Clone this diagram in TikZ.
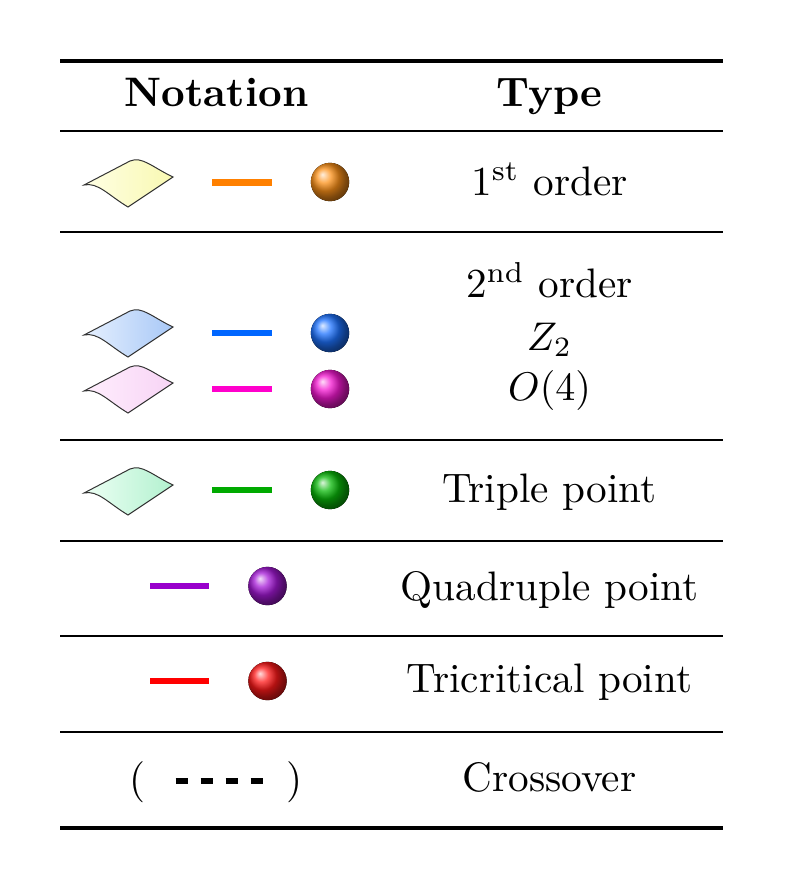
\documentclass[tikz,border=0pt]{standalone}
\usepackage{tikz}
\definecolor{cOrange}{RGB}{255,128,0}
\definecolor{cBlue}{RGB}{0,102,255}
\definecolor{cMag}{RGB}{255,0,204}
\definecolor{cGreen}{RGB}{0,170,0}
\definecolor{cPurple}{RGB}{153,0,204}
\definecolor{cRed}{RGB}{255,0,0}
\definecolor{bOrange}{RGB}{252,145,25}
\definecolor{bBlue}{RGB}{30,115,255}
\definecolor{bMag}{RGB}{245,25,210}
\definecolor{bGreen}{RGB}{10,185,10}
\definecolor{bPurple}{RGB}{165,25,215}
\definecolor{bRed}{RGB}{255,25,25}
\definecolor{yL}{RGB}{255,255,228}
\definecolor{yR}{RGB}{248,248,178}
\definecolor{blL}{RGB}{230,240,255}
\definecolor{blR}{RGB}{168,200,246}
\definecolor{pkL}{RGB}{255,238,253}
\definecolor{pkR}{RGB}{247,212,245}
\definecolor{gnL}{RGB}{237,255,244}
\definecolor{gnR}{RGB}{178,241,207}
\tikzset{
  txt/.style={font=\fontsize{10.3}{12}\selectfont, inner sep=0pt, anchor=base},
  heavyrule/.style={line width=0.8pt},
  lightrule/.style={line width=0.5pt},
  seg/.style={line width=1.58pt},
  ball/.style={shading=ball, ball color=#1},
  pics/sheet/.style 2 args={code={
    \path[draw=black!80, line width=0.25pt, left color=#1, right color=#2]
      (0,3) -- (46,-21) .. controls (58,-26) and (68,-15) .. (89,-5)
      -- (44,25) .. controls (24,13) and (14,0) .. (0,3) -- cycle;}}
}
\begin{document}
\begin{tikzpicture}[x=0.25pt,y=-0.25pt]
\useasboundingbox (0,0) rectangle (784,889);
% rules
\draw[heavyrule] (60,61) -- (723,61);
\draw[lightrule] (60,131) -- (723,131);
\draw[lightrule] (60,232) -- (723,232);
\draw[lightrule] (60,440) -- (723,440);
\draw[lightrule] (60,541) -- (723,541);
\draw[lightrule] (60,636) -- (723,636);
\draw[lightrule] (60,732) -- (723,732);
\draw[heavyrule] (60,828) -- (723,828);
% header
\node[txt] (hN) at (216.5,107) {\textbf{Notation}};
\node[txt] (hT) at (549.5,107) {\textbf{Type}};
% row 1st order
\pic at (84,182) {sheet={yL}{yR}};
\draw[seg, cOrange] (212,182.5) -- (272,182.5);
\fill[ball=bOrange] (330,182) circle[radius=4.8pt];
\node[txt] (t1) at (549.5,195) {1\textsuperscript{st} order};
% row 2nd order
\node[txt] (t2) at (549.5,297) {2\textsuperscript{nd} order};
\node[txt] (tZ) at (549.5,350) {$Z_2$};
\node[txt] (tO) at (549.5,400) {$O(4)$};
\pic at (84,332) {sheet={blL}{blR}};
\draw[seg, cBlue] (212,333.3) -- (272,333.3);
\fill[ball=bBlue] (330,333) circle[radius=4.8pt];
\pic at (84,388) {sheet={pkL}{pkR}};
\draw[seg, cMag] (212,388.7) -- (272,388.7);
\fill[ball=bMag] (330,389) circle[radius=4.8pt];
% triple
\pic at (84,490) {sheet={gnL}{gnR}};
\draw[seg, cGreen] (212,490) -- (272,490);
\fill[ball=bGreen] (330,490) circle[radius=4.8pt];
\node[txt] (t3) at (549.5,502) {Triple point};
% quadruple
\draw[seg, cPurple] (150,585.7) -- (209,585.7);
\fill[ball=bPurple] (267.5,586) circle[radius=4.8pt];
\node[txt] (t4) at (549.5,600) {Quadruple point};
% tricritical
\draw[seg, cRed] (150,681) -- (209,681);
\fill[ball=bRed] (267.5,681) circle[radius=4.8pt];
\node[txt] (t5) at (549.5,692) {Tricritical point};
% crossover
\node[txt] (pl) at (138,792) {(};
\node[txt] (pr) at (295,792) {)};
\draw[line width=1.65pt, dash pattern=on 3.125pt off 3.125pt] (175.7,781) -- (263.2,781);
\node[txt] (t6) at (549.5,791) {Crossover};
\end{tikzpicture}
\end{document}
